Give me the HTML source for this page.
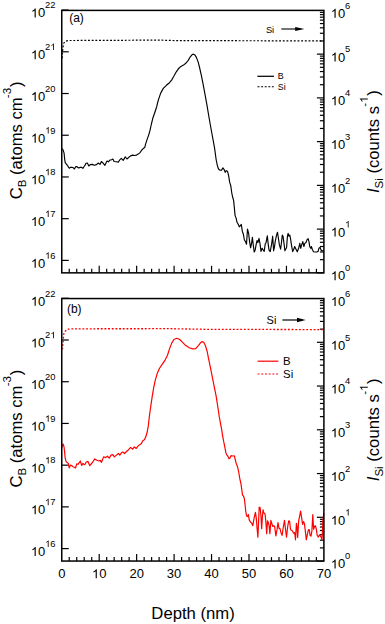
<!DOCTYPE html>
<html><head><meta charset="utf-8"><style>
html,body{margin:0;padding:0;background:#fff;width:385px;height:624px;overflow:hidden}
svg{display:block}
text{font-family:"Liberation Sans",sans-serif}
</style></head><body>
<svg width="385" height="624" viewBox="0 0 385 624">
<g stroke="#000" stroke-width="1.2" fill="none"><line x1="61.75" y1="10.08" x2="68.75" y2="10.08"/><line x1="61.75" y1="51.80" x2="68.75" y2="51.80"/><line x1="61.75" y1="93.52" x2="68.75" y2="93.52"/><line x1="61.75" y1="135.24" x2="68.75" y2="135.24"/><line x1="61.75" y1="176.96" x2="68.75" y2="176.96"/><line x1="61.75" y1="218.68" x2="68.75" y2="218.68"/><line x1="61.75" y1="260.40" x2="68.75" y2="260.40"/><line x1="316.9" y1="272.85" x2="323.9" y2="272.85"/><line x1="319.9" y1="259.68" x2="323.9" y2="259.68"/><line x1="319.9" y1="251.98" x2="323.9" y2="251.98"/><line x1="319.9" y1="246.51" x2="323.9" y2="246.51"/><line x1="319.9" y1="242.28" x2="323.9" y2="242.28"/><line x1="319.9" y1="238.81" x2="323.9" y2="238.81"/><line x1="319.9" y1="235.88" x2="323.9" y2="235.88"/><line x1="319.9" y1="233.35" x2="323.9" y2="233.35"/><line x1="319.9" y1="231.11" x2="323.9" y2="231.11"/><line x1="316.9" y1="229.11" x2="323.9" y2="229.11"/><line x1="319.9" y1="215.94" x2="323.9" y2="215.94"/><line x1="319.9" y1="208.24" x2="323.9" y2="208.24"/><line x1="319.9" y1="202.77" x2="323.9" y2="202.77"/><line x1="319.9" y1="198.53" x2="323.9" y2="198.53"/><line x1="319.9" y1="195.07" x2="323.9" y2="195.07"/><line x1="319.9" y1="192.14" x2="323.9" y2="192.14"/><line x1="319.9" y1="189.61" x2="323.9" y2="189.61"/><line x1="319.9" y1="187.37" x2="323.9" y2="187.37"/><line x1="316.9" y1="185.37" x2="323.9" y2="185.37"/><line x1="319.9" y1="172.20" x2="323.9" y2="172.20"/><line x1="319.9" y1="164.50" x2="323.9" y2="164.50"/><line x1="319.9" y1="159.03" x2="323.9" y2="159.03"/><line x1="319.9" y1="154.79" x2="323.9" y2="154.79"/><line x1="319.9" y1="151.33" x2="323.9" y2="151.33"/><line x1="319.9" y1="148.40" x2="323.9" y2="148.40"/><line x1="319.9" y1="145.86" x2="323.9" y2="145.86"/><line x1="319.9" y1="143.63" x2="323.9" y2="143.63"/><line x1="316.9" y1="141.62" x2="323.9" y2="141.62"/><line x1="319.9" y1="128.46" x2="323.9" y2="128.46"/><line x1="319.9" y1="120.75" x2="323.9" y2="120.75"/><line x1="319.9" y1="115.29" x2="323.9" y2="115.29"/><line x1="319.9" y1="111.05" x2="323.9" y2="111.05"/><line x1="319.9" y1="107.59" x2="323.9" y2="107.59"/><line x1="319.9" y1="104.66" x2="323.9" y2="104.66"/><line x1="319.9" y1="102.12" x2="323.9" y2="102.12"/><line x1="319.9" y1="99.88" x2="323.9" y2="99.88"/><line x1="316.9" y1="97.88" x2="323.9" y2="97.88"/><line x1="319.9" y1="84.72" x2="323.9" y2="84.72"/><line x1="319.9" y1="77.01" x2="323.9" y2="77.01"/><line x1="319.9" y1="71.55" x2="323.9" y2="71.55"/><line x1="319.9" y1="67.31" x2="323.9" y2="67.31"/><line x1="319.9" y1="63.85" x2="323.9" y2="63.85"/><line x1="319.9" y1="60.92" x2="323.9" y2="60.92"/><line x1="319.9" y1="58.38" x2="323.9" y2="58.38"/><line x1="319.9" y1="56.14" x2="323.9" y2="56.14"/><line x1="316.9" y1="54.14" x2="323.9" y2="54.14"/><line x1="319.9" y1="40.97" x2="323.9" y2="40.97"/><line x1="319.9" y1="33.27" x2="323.9" y2="33.27"/><line x1="319.9" y1="27.81" x2="323.9" y2="27.81"/><line x1="319.9" y1="23.57" x2="323.9" y2="23.57"/><line x1="319.9" y1="20.10" x2="323.9" y2="20.10"/><line x1="319.9" y1="17.18" x2="323.9" y2="17.18"/><line x1="319.9" y1="14.64" x2="323.9" y2="14.64"/><line x1="319.9" y1="12.40" x2="323.9" y2="12.40"/><line x1="69.24" y1="272.85" x2="69.24" y2="268.85"/><line x1="76.73" y1="272.85" x2="76.73" y2="268.85"/><line x1="84.22" y1="272.85" x2="84.22" y2="268.85"/><line x1="91.71" y1="272.85" x2="91.71" y2="268.85"/><line x1="99.20" y1="272.85" x2="99.20" y2="265.85"/><line x1="106.69" y1="272.85" x2="106.69" y2="268.85"/><line x1="114.18" y1="272.85" x2="114.18" y2="268.85"/><line x1="121.67" y1="272.85" x2="121.67" y2="268.85"/><line x1="129.16" y1="272.85" x2="129.16" y2="268.85"/><line x1="136.65" y1="272.85" x2="136.65" y2="265.85"/><line x1="144.14" y1="272.85" x2="144.14" y2="268.85"/><line x1="151.63" y1="272.85" x2="151.63" y2="268.85"/><line x1="159.12" y1="272.85" x2="159.12" y2="268.85"/><line x1="166.61" y1="272.85" x2="166.61" y2="268.85"/><line x1="174.10" y1="272.85" x2="174.10" y2="265.85"/><line x1="181.59" y1="272.85" x2="181.59" y2="268.85"/><line x1="189.08" y1="272.85" x2="189.08" y2="268.85"/><line x1="196.57" y1="272.85" x2="196.57" y2="268.85"/><line x1="204.06" y1="272.85" x2="204.06" y2="268.85"/><line x1="211.55" y1="272.85" x2="211.55" y2="265.85"/><line x1="219.04" y1="272.85" x2="219.04" y2="268.85"/><line x1="226.53" y1="272.85" x2="226.53" y2="268.85"/><line x1="234.02" y1="272.85" x2="234.02" y2="268.85"/><line x1="241.51" y1="272.85" x2="241.51" y2="268.85"/><line x1="249.00" y1="272.85" x2="249.00" y2="265.85"/><line x1="256.49" y1="272.85" x2="256.49" y2="268.85"/><line x1="263.98" y1="272.85" x2="263.98" y2="268.85"/><line x1="271.47" y1="272.85" x2="271.47" y2="268.85"/><line x1="278.96" y1="272.85" x2="278.96" y2="268.85"/><line x1="286.45" y1="272.85" x2="286.45" y2="265.85"/><line x1="293.94" y1="272.85" x2="293.94" y2="268.85"/><line x1="301.43" y1="272.85" x2="301.43" y2="268.85"/><line x1="308.92" y1="272.85" x2="308.92" y2="268.85"/><line x1="316.41" y1="272.85" x2="316.41" y2="268.85"/></g>
<g font-family="Liberation Sans, sans-serif" fill="#000"><text x="30.90" y="17.48" font-size="13.0" fill="#000">&#x2007;0</text><path transform="translate(30.90,17.48) scale(0.00635,-0.00635)" d="M763 0L583 0L583 1107Q518 1047 412 987Q306 927 221 897L221 1065Q372 1134 485 1231Q598 1329 645 1420L763 1420Z" fill="#000"/><text x="45.10" y="8.38" font-size="9.4" fill="#000">22</text><text x="30.90" y="59.20" font-size="13.0" fill="#000">&#x2007;0</text><path transform="translate(30.90,59.20) scale(0.00635,-0.00635)" d="M763 0L583 0L583 1107Q518 1047 412 987Q306 927 221 897L221 1065Q372 1134 485 1231Q598 1329 645 1420L763 1420Z" fill="#000"/><text x="45.10" y="50.10" font-size="9.4" fill="#000">2&#x2007;</text><path transform="translate(50.33,50.10) scale(0.00459,-0.00459)" d="M763 0L583 0L583 1107Q518 1047 412 987Q306 927 221 897L221 1065Q372 1134 485 1231Q598 1329 645 1420L763 1420Z" fill="#000"/><text x="30.90" y="100.92" font-size="13.0" fill="#000">&#x2007;0</text><path transform="translate(30.90,100.92) scale(0.00635,-0.00635)" d="M763 0L583 0L583 1107Q518 1047 412 987Q306 927 221 897L221 1065Q372 1134 485 1231Q598 1329 645 1420L763 1420Z" fill="#000"/><text x="45.10" y="91.82" font-size="9.4" fill="#000">20</text><text x="30.90" y="142.64" font-size="13.0" fill="#000">&#x2007;0</text><path transform="translate(30.90,142.64) scale(0.00635,-0.00635)" d="M763 0L583 0L583 1107Q518 1047 412 987Q306 927 221 897L221 1065Q372 1134 485 1231Q598 1329 645 1420L763 1420Z" fill="#000"/><text x="45.10" y="133.54" font-size="9.4" fill="#000">&#x2007;9</text><path transform="translate(45.10,133.54) scale(0.00459,-0.00459)" d="M763 0L583 0L583 1107Q518 1047 412 987Q306 927 221 897L221 1065Q372 1134 485 1231Q598 1329 645 1420L763 1420Z" fill="#000"/><text x="30.90" y="184.36" font-size="13.0" fill="#000">&#x2007;0</text><path transform="translate(30.90,184.36) scale(0.00635,-0.00635)" d="M763 0L583 0L583 1107Q518 1047 412 987Q306 927 221 897L221 1065Q372 1134 485 1231Q598 1329 645 1420L763 1420Z" fill="#000"/><text x="45.10" y="175.26" font-size="9.4" fill="#000">&#x2007;8</text><path transform="translate(45.10,175.26) scale(0.00459,-0.00459)" d="M763 0L583 0L583 1107Q518 1047 412 987Q306 927 221 897L221 1065Q372 1134 485 1231Q598 1329 645 1420L763 1420Z" fill="#000"/><text x="30.90" y="226.08" font-size="13.0" fill="#000">&#x2007;0</text><path transform="translate(30.90,226.08) scale(0.00635,-0.00635)" d="M763 0L583 0L583 1107Q518 1047 412 987Q306 927 221 897L221 1065Q372 1134 485 1231Q598 1329 645 1420L763 1420Z" fill="#000"/><text x="45.10" y="216.98" font-size="9.4" fill="#000">&#x2007;7</text><path transform="translate(45.10,216.98) scale(0.00459,-0.00459)" d="M763 0L583 0L583 1107Q518 1047 412 987Q306 927 221 897L221 1065Q372 1134 485 1231Q598 1329 645 1420L763 1420Z" fill="#000"/><text x="30.90" y="267.80" font-size="13.0" fill="#000">&#x2007;0</text><path transform="translate(30.90,267.80) scale(0.00635,-0.00635)" d="M763 0L583 0L583 1107Q518 1047 412 987Q306 927 221 897L221 1065Q372 1134 485 1231Q598 1329 645 1420L763 1420Z" fill="#000"/><text x="45.10" y="258.70" font-size="9.4" fill="#000">&#x2007;6</text><path transform="translate(45.10,258.70) scale(0.00459,-0.00459)" d="M763 0L583 0L583 1107Q518 1047 412 987Q306 927 221 897L221 1065Q372 1134 485 1231Q598 1329 645 1420L763 1420Z" fill="#000"/><text x="330.80" y="280.25" font-size="13.0" fill="#000">&#x2007;0</text><path transform="translate(330.80,280.25) scale(0.00635,-0.00635)" d="M763 0L583 0L583 1107Q518 1047 412 987Q306 927 221 897L221 1065Q372 1134 485 1231Q598 1329 645 1420L763 1420Z" fill="#000"/><text x="345.10" y="271.15" font-size="9.4" fill="#000">0</text><text x="330.80" y="236.51" font-size="13.0" fill="#000">&#x2007;0</text><path transform="translate(330.80,236.51) scale(0.00635,-0.00635)" d="M763 0L583 0L583 1107Q518 1047 412 987Q306 927 221 897L221 1065Q372 1134 485 1231Q598 1329 645 1420L763 1420Z" fill="#000"/><text x="345.10" y="227.41" font-size="9.4" fill="#000">&#x2007;</text><path transform="translate(345.10,227.41) scale(0.00459,-0.00459)" d="M763 0L583 0L583 1107Q518 1047 412 987Q306 927 221 897L221 1065Q372 1134 485 1231Q598 1329 645 1420L763 1420Z" fill="#000"/><text x="330.80" y="192.77" font-size="13.0" fill="#000">&#x2007;0</text><path transform="translate(330.80,192.77) scale(0.00635,-0.00635)" d="M763 0L583 0L583 1107Q518 1047 412 987Q306 927 221 897L221 1065Q372 1134 485 1231Q598 1329 645 1420L763 1420Z" fill="#000"/><text x="345.10" y="183.67" font-size="9.4" fill="#000">2</text><text x="330.80" y="149.03" font-size="13.0" fill="#000">&#x2007;0</text><path transform="translate(330.80,149.03) scale(0.00635,-0.00635)" d="M763 0L583 0L583 1107Q518 1047 412 987Q306 927 221 897L221 1065Q372 1134 485 1231Q598 1329 645 1420L763 1420Z" fill="#000"/><text x="345.10" y="139.93" font-size="9.4" fill="#000">3</text><text x="330.80" y="105.28" font-size="13.0" fill="#000">&#x2007;0</text><path transform="translate(330.80,105.28) scale(0.00635,-0.00635)" d="M763 0L583 0L583 1107Q518 1047 412 987Q306 927 221 897L221 1065Q372 1134 485 1231Q598 1329 645 1420L763 1420Z" fill="#000"/><text x="345.10" y="96.18" font-size="9.4" fill="#000">4</text><text x="330.80" y="61.54" font-size="13.0" fill="#000">&#x2007;0</text><path transform="translate(330.80,61.54) scale(0.00635,-0.00635)" d="M763 0L583 0L583 1107Q518 1047 412 987Q306 927 221 897L221 1065Q372 1134 485 1231Q598 1329 645 1420L763 1420Z" fill="#000"/><text x="345.10" y="52.44" font-size="9.4" fill="#000">5</text><text x="330.80" y="17.80" font-size="13.0" fill="#000">&#x2007;0</text><path transform="translate(330.80,17.80) scale(0.00635,-0.00635)" d="M763 0L583 0L583 1107Q518 1047 412 987Q306 927 221 897L221 1065Q372 1134 485 1231Q598 1329 645 1420L763 1420Z" fill="#000"/><text x="345.10" y="8.70" font-size="9.4" fill="#000">6</text></g>
<text transform="translate(22.2,140.4) rotate(-90)" font-size="16.65" text-anchor="middle" font-family="Liberation Sans, sans-serif">C<tspan font-size="11.5" dy="4">B</tspan><tspan dy="-4"> (atoms cm</tspan><tspan font-size="11.6" dy="-11" dx="-0.8">-3</tspan><tspan dy="11" dx="0.8">)</tspan></text>
<g transform="translate(378.8,141.6) rotate(-90)"><text class="rt" x="0" y="0" font-size="16.65" text-anchor="middle" font-family="Liberation Sans, sans-serif"><tspan font-style="italic">I</tspan><tspan font-size="11.5" dy="4">Si</tspan><tspan dy="-4"> (counts s</tspan><tspan font-size="11.6" dy="-11" dx="-0.6">-&#x2007;</tspan><tspan dy="11" dx="0.6">)</tspan></text><path transform="translate(38.83,-11.00) scale(0.00566,-0.00566)" d="M763 0L583 0L583 1107Q518 1047 412 987Q306 927 221 897L221 1065Q372 1134 485 1231Q598 1329 645 1420L763 1420Z" fill="#000"/></g>
<g stroke="#000" stroke-width="1.2" fill="none"><line x1="61.75" y1="298.28" x2="68.75" y2="298.28"/><line x1="61.75" y1="340.00" x2="68.75" y2="340.00"/><line x1="61.75" y1="381.72" x2="68.75" y2="381.72"/><line x1="61.75" y1="423.44" x2="68.75" y2="423.44"/><line x1="61.75" y1="465.16" x2="68.75" y2="465.16"/><line x1="61.75" y1="506.88" x2="68.75" y2="506.88"/><line x1="61.75" y1="548.60" x2="68.75" y2="548.60"/><line x1="316.9" y1="561.05" x2="323.9" y2="561.05"/><line x1="319.9" y1="547.88" x2="323.9" y2="547.88"/><line x1="319.9" y1="540.18" x2="323.9" y2="540.18"/><line x1="319.9" y1="534.71" x2="323.9" y2="534.71"/><line x1="319.9" y1="530.47" x2="323.9" y2="530.47"/><line x1="319.9" y1="527.01" x2="323.9" y2="527.01"/><line x1="319.9" y1="524.08" x2="323.9" y2="524.08"/><line x1="319.9" y1="521.54" x2="323.9" y2="521.54"/><line x1="319.9" y1="519.30" x2="323.9" y2="519.30"/><line x1="316.9" y1="517.30" x2="323.9" y2="517.30"/><line x1="319.9" y1="504.13" x2="323.9" y2="504.13"/><line x1="319.9" y1="496.43" x2="323.9" y2="496.43"/><line x1="319.9" y1="490.96" x2="323.9" y2="490.96"/><line x1="319.9" y1="486.72" x2="323.9" y2="486.72"/><line x1="319.9" y1="483.26" x2="323.9" y2="483.26"/><line x1="319.9" y1="480.33" x2="323.9" y2="480.33"/><line x1="319.9" y1="477.79" x2="323.9" y2="477.79"/><line x1="319.9" y1="475.55" x2="323.9" y2="475.55"/><line x1="316.9" y1="473.55" x2="323.9" y2="473.55"/><line x1="319.9" y1="460.38" x2="323.9" y2="460.38"/><line x1="319.9" y1="452.68" x2="323.9" y2="452.68"/><line x1="319.9" y1="447.21" x2="323.9" y2="447.21"/><line x1="319.9" y1="442.97" x2="323.9" y2="442.97"/><line x1="319.9" y1="439.51" x2="323.9" y2="439.51"/><line x1="319.9" y1="436.58" x2="323.9" y2="436.58"/><line x1="319.9" y1="434.04" x2="323.9" y2="434.04"/><line x1="319.9" y1="431.80" x2="323.9" y2="431.80"/><line x1="316.9" y1="429.80" x2="323.9" y2="429.80"/><line x1="319.9" y1="416.63" x2="323.9" y2="416.63"/><line x1="319.9" y1="408.93" x2="323.9" y2="408.93"/><line x1="319.9" y1="403.46" x2="323.9" y2="403.46"/><line x1="319.9" y1="399.22" x2="323.9" y2="399.22"/><line x1="319.9" y1="395.76" x2="323.9" y2="395.76"/><line x1="319.9" y1="392.83" x2="323.9" y2="392.83"/><line x1="319.9" y1="390.29" x2="323.9" y2="390.29"/><line x1="319.9" y1="388.05" x2="323.9" y2="388.05"/><line x1="316.9" y1="386.05" x2="323.9" y2="386.05"/><line x1="319.9" y1="372.88" x2="323.9" y2="372.88"/><line x1="319.9" y1="365.18" x2="323.9" y2="365.18"/><line x1="319.9" y1="359.71" x2="323.9" y2="359.71"/><line x1="319.9" y1="355.47" x2="323.9" y2="355.47"/><line x1="319.9" y1="352.01" x2="323.9" y2="352.01"/><line x1="319.9" y1="349.08" x2="323.9" y2="349.08"/><line x1="319.9" y1="346.54" x2="323.9" y2="346.54"/><line x1="319.9" y1="344.30" x2="323.9" y2="344.30"/><line x1="316.9" y1="342.30" x2="323.9" y2="342.30"/><line x1="319.9" y1="329.13" x2="323.9" y2="329.13"/><line x1="319.9" y1="321.43" x2="323.9" y2="321.43"/><line x1="319.9" y1="315.96" x2="323.9" y2="315.96"/><line x1="319.9" y1="311.72" x2="323.9" y2="311.72"/><line x1="319.9" y1="308.26" x2="323.9" y2="308.26"/><line x1="319.9" y1="305.33" x2="323.9" y2="305.33"/><line x1="319.9" y1="302.79" x2="323.9" y2="302.79"/><line x1="319.9" y1="300.55" x2="323.9" y2="300.55"/><line x1="69.24" y1="561.05" x2="69.24" y2="557.05"/><line x1="76.73" y1="561.05" x2="76.73" y2="557.05"/><line x1="84.22" y1="561.05" x2="84.22" y2="557.05"/><line x1="91.71" y1="561.05" x2="91.71" y2="557.05"/><line x1="99.20" y1="561.05" x2="99.20" y2="554.05"/><line x1="106.69" y1="561.05" x2="106.69" y2="557.05"/><line x1="114.18" y1="561.05" x2="114.18" y2="557.05"/><line x1="121.67" y1="561.05" x2="121.67" y2="557.05"/><line x1="129.16" y1="561.05" x2="129.16" y2="557.05"/><line x1="136.65" y1="561.05" x2="136.65" y2="554.05"/><line x1="144.14" y1="561.05" x2="144.14" y2="557.05"/><line x1="151.63" y1="561.05" x2="151.63" y2="557.05"/><line x1="159.12" y1="561.05" x2="159.12" y2="557.05"/><line x1="166.61" y1="561.05" x2="166.61" y2="557.05"/><line x1="174.10" y1="561.05" x2="174.10" y2="554.05"/><line x1="181.59" y1="561.05" x2="181.59" y2="557.05"/><line x1="189.08" y1="561.05" x2="189.08" y2="557.05"/><line x1="196.57" y1="561.05" x2="196.57" y2="557.05"/><line x1="204.06" y1="561.05" x2="204.06" y2="557.05"/><line x1="211.55" y1="561.05" x2="211.55" y2="554.05"/><line x1="219.04" y1="561.05" x2="219.04" y2="557.05"/><line x1="226.53" y1="561.05" x2="226.53" y2="557.05"/><line x1="234.02" y1="561.05" x2="234.02" y2="557.05"/><line x1="241.51" y1="561.05" x2="241.51" y2="557.05"/><line x1="249.00" y1="561.05" x2="249.00" y2="554.05"/><line x1="256.49" y1="561.05" x2="256.49" y2="557.05"/><line x1="263.98" y1="561.05" x2="263.98" y2="557.05"/><line x1="271.47" y1="561.05" x2="271.47" y2="557.05"/><line x1="278.96" y1="561.05" x2="278.96" y2="557.05"/><line x1="286.45" y1="561.05" x2="286.45" y2="554.05"/><line x1="293.94" y1="561.05" x2="293.94" y2="557.05"/><line x1="301.43" y1="561.05" x2="301.43" y2="557.05"/><line x1="308.92" y1="561.05" x2="308.92" y2="557.05"/><line x1="316.41" y1="561.05" x2="316.41" y2="557.05"/></g>
<g font-family="Liberation Sans, sans-serif" fill="#000"><text x="30.90" y="305.68" font-size="13.0" fill="#000">&#x2007;0</text><path transform="translate(30.90,305.68) scale(0.00635,-0.00635)" d="M763 0L583 0L583 1107Q518 1047 412 987Q306 927 221 897L221 1065Q372 1134 485 1231Q598 1329 645 1420L763 1420Z" fill="#000"/><text x="45.10" y="296.58" font-size="9.4" fill="#000">22</text><text x="30.90" y="347.40" font-size="13.0" fill="#000">&#x2007;0</text><path transform="translate(30.90,347.40) scale(0.00635,-0.00635)" d="M763 0L583 0L583 1107Q518 1047 412 987Q306 927 221 897L221 1065Q372 1134 485 1231Q598 1329 645 1420L763 1420Z" fill="#000"/><text x="45.10" y="338.30" font-size="9.4" fill="#000">2&#x2007;</text><path transform="translate(50.33,338.30) scale(0.00459,-0.00459)" d="M763 0L583 0L583 1107Q518 1047 412 987Q306 927 221 897L221 1065Q372 1134 485 1231Q598 1329 645 1420L763 1420Z" fill="#000"/><text x="30.90" y="389.12" font-size="13.0" fill="#000">&#x2007;0</text><path transform="translate(30.90,389.12) scale(0.00635,-0.00635)" d="M763 0L583 0L583 1107Q518 1047 412 987Q306 927 221 897L221 1065Q372 1134 485 1231Q598 1329 645 1420L763 1420Z" fill="#000"/><text x="45.10" y="380.02" font-size="9.4" fill="#000">20</text><text x="30.90" y="430.84" font-size="13.0" fill="#000">&#x2007;0</text><path transform="translate(30.90,430.84) scale(0.00635,-0.00635)" d="M763 0L583 0L583 1107Q518 1047 412 987Q306 927 221 897L221 1065Q372 1134 485 1231Q598 1329 645 1420L763 1420Z" fill="#000"/><text x="45.10" y="421.74" font-size="9.4" fill="#000">&#x2007;9</text><path transform="translate(45.10,421.74) scale(0.00459,-0.00459)" d="M763 0L583 0L583 1107Q518 1047 412 987Q306 927 221 897L221 1065Q372 1134 485 1231Q598 1329 645 1420L763 1420Z" fill="#000"/><text x="30.90" y="472.56" font-size="13.0" fill="#000">&#x2007;0</text><path transform="translate(30.90,472.56) scale(0.00635,-0.00635)" d="M763 0L583 0L583 1107Q518 1047 412 987Q306 927 221 897L221 1065Q372 1134 485 1231Q598 1329 645 1420L763 1420Z" fill="#000"/><text x="45.10" y="463.46" font-size="9.4" fill="#000">&#x2007;8</text><path transform="translate(45.10,463.46) scale(0.00459,-0.00459)" d="M763 0L583 0L583 1107Q518 1047 412 987Q306 927 221 897L221 1065Q372 1134 485 1231Q598 1329 645 1420L763 1420Z" fill="#000"/><text x="30.90" y="514.28" font-size="13.0" fill="#000">&#x2007;0</text><path transform="translate(30.90,514.28) scale(0.00635,-0.00635)" d="M763 0L583 0L583 1107Q518 1047 412 987Q306 927 221 897L221 1065Q372 1134 485 1231Q598 1329 645 1420L763 1420Z" fill="#000"/><text x="45.10" y="505.18" font-size="9.4" fill="#000">&#x2007;7</text><path transform="translate(45.10,505.18) scale(0.00459,-0.00459)" d="M763 0L583 0L583 1107Q518 1047 412 987Q306 927 221 897L221 1065Q372 1134 485 1231Q598 1329 645 1420L763 1420Z" fill="#000"/><text x="30.90" y="556.00" font-size="13.0" fill="#000">&#x2007;0</text><path transform="translate(30.90,556.00) scale(0.00635,-0.00635)" d="M763 0L583 0L583 1107Q518 1047 412 987Q306 927 221 897L221 1065Q372 1134 485 1231Q598 1329 645 1420L763 1420Z" fill="#000"/><text x="45.10" y="546.90" font-size="9.4" fill="#000">&#x2007;6</text><path transform="translate(45.10,546.90) scale(0.00459,-0.00459)" d="M763 0L583 0L583 1107Q518 1047 412 987Q306 927 221 897L221 1065Q372 1134 485 1231Q598 1329 645 1420L763 1420Z" fill="#000"/><text x="330.80" y="568.45" font-size="13.0" fill="#000">&#x2007;0</text><path transform="translate(330.80,568.45) scale(0.00635,-0.00635)" d="M763 0L583 0L583 1107Q518 1047 412 987Q306 927 221 897L221 1065Q372 1134 485 1231Q598 1329 645 1420L763 1420Z" fill="#000"/><text x="345.10" y="559.35" font-size="9.4" fill="#000">0</text><text x="330.80" y="524.70" font-size="13.0" fill="#000">&#x2007;0</text><path transform="translate(330.80,524.70) scale(0.00635,-0.00635)" d="M763 0L583 0L583 1107Q518 1047 412 987Q306 927 221 897L221 1065Q372 1134 485 1231Q598 1329 645 1420L763 1420Z" fill="#000"/><text x="345.10" y="515.60" font-size="9.4" fill="#000">&#x2007;</text><path transform="translate(345.10,515.60) scale(0.00459,-0.00459)" d="M763 0L583 0L583 1107Q518 1047 412 987Q306 927 221 897L221 1065Q372 1134 485 1231Q598 1329 645 1420L763 1420Z" fill="#000"/><text x="330.80" y="480.95" font-size="13.0" fill="#000">&#x2007;0</text><path transform="translate(330.80,480.95) scale(0.00635,-0.00635)" d="M763 0L583 0L583 1107Q518 1047 412 987Q306 927 221 897L221 1065Q372 1134 485 1231Q598 1329 645 1420L763 1420Z" fill="#000"/><text x="345.10" y="471.85" font-size="9.4" fill="#000">2</text><text x="330.80" y="437.20" font-size="13.0" fill="#000">&#x2007;0</text><path transform="translate(330.80,437.20) scale(0.00635,-0.00635)" d="M763 0L583 0L583 1107Q518 1047 412 987Q306 927 221 897L221 1065Q372 1134 485 1231Q598 1329 645 1420L763 1420Z" fill="#000"/><text x="345.10" y="428.10" font-size="9.4" fill="#000">3</text><text x="330.80" y="393.45" font-size="13.0" fill="#000">&#x2007;0</text><path transform="translate(330.80,393.45) scale(0.00635,-0.00635)" d="M763 0L583 0L583 1107Q518 1047 412 987Q306 927 221 897L221 1065Q372 1134 485 1231Q598 1329 645 1420L763 1420Z" fill="#000"/><text x="345.10" y="384.35" font-size="9.4" fill="#000">4</text><text x="330.80" y="349.70" font-size="13.0" fill="#000">&#x2007;0</text><path transform="translate(330.80,349.70) scale(0.00635,-0.00635)" d="M763 0L583 0L583 1107Q518 1047 412 987Q306 927 221 897L221 1065Q372 1134 485 1231Q598 1329 645 1420L763 1420Z" fill="#000"/><text x="345.10" y="340.60" font-size="9.4" fill="#000">5</text><text x="330.80" y="305.95" font-size="13.0" fill="#000">&#x2007;0</text><path transform="translate(330.80,305.95) scale(0.00635,-0.00635)" d="M763 0L583 0L583 1107Q518 1047 412 987Q306 927 221 897L221 1065Q372 1134 485 1231Q598 1329 645 1420L763 1420Z" fill="#000"/><text x="345.10" y="296.85" font-size="9.4" fill="#000">6</text></g>
<text transform="translate(22.2,428.6) rotate(-90)" font-size="16.65" text-anchor="middle" font-family="Liberation Sans, sans-serif">C<tspan font-size="11.5" dy="4">B</tspan><tspan dy="-4"> (atoms cm</tspan><tspan font-size="11.6" dy="-11" dx="-0.8">-3</tspan><tspan dy="11" dx="0.8">)</tspan></text>
<g transform="translate(378.8,429.8) rotate(-90)"><text class="rt" x="0" y="0" font-size="16.65" text-anchor="middle" font-family="Liberation Sans, sans-serif"><tspan font-style="italic">I</tspan><tspan font-size="11.5" dy="4">Si</tspan><tspan dy="-4"> (counts s</tspan><tspan font-size="11.6" dy="-11" dx="-0.6">-&#x2007;</tspan><tspan dy="11" dx="0.6">)</tspan></text><path transform="translate(38.83,-11.00) scale(0.00566,-0.00566)" d="M763 0L583 0L583 1107Q518 1047 412 987Q306 927 221 897L221 1065Q372 1134 485 1231Q598 1329 645 1420L763 1420Z" fill="#000"/></g>
<text x="69.2" y="21.8" font-size="12.0" font-family="Liberation Sans, sans-serif">(a)</text>
<polyline points="61.9,148.6 62.8,149.4 63.5,151.3 64.1,153.2 64.6,158.7 65.2,162.6 66.2,163.8 67.4,165.3 68.5,167.3 69.3,168.2 70.5,167.3 72.0,167.3 73.2,167.7 74.4,169.0 75.5,166.9 76.7,166.5 77.9,167.7 79.0,167.9 80.2,167.3 81.4,167.3 82.9,168.4 84.1,166.5 85.3,164.9 86.0,163.2 87.4,163.0 88.8,166.0 90.2,164.6 92.3,164.4 94.4,165.3 96.5,164.6 98.3,163.0 100.0,164.4 101.4,161.5 103.1,163.2 104.9,165.3 107.0,161.1 108.4,161.8 109.8,160.1 111.5,159.7 112.9,159.0 114.1,161.5 116.2,161.8 118.3,162.1 119.9,159.7 121.3,158.3 123.2,160.4 125.3,156.9 127.0,159.0 128.8,157.3 130.6,155.9 132.6,155.1 134.4,155.5 136.5,155.1 138.2,154.1 139.8,152.9 141.8,150.0 143.2,148.6 144.7,147.6 145.6,144.2 147.1,139.4 148.5,135.6 149.9,130.8 151.4,124.0 152.8,118.3 154.8,112.5 156.7,106.7 157.8,102.0 158.8,98.6 160.7,93.1 163.3,88.4 166.4,85.3 169.5,82.7 171.6,80.1 173.7,76.5 176.3,71.8 178.9,68.2 180.9,66.4 183.5,65.1 186.1,63.0 188.2,60.4 190.3,56.8 192.4,54.4 193.4,54.2 195.0,55.1 196.5,57.6 198.2,62.1 199.8,68.5 201.4,75.6 203.3,85.2 205.2,95.4 207.0,105.4 209.2,118.5 211.9,133.5 214.5,147.6 216.2,160.0 217.4,165.6 218.5,169.0 220.2,170.3 221.6,170.1 223.0,167.9 224.1,169.5 225.2,172.3 226.3,170.7 227.5,171.2 228.6,175.7 229.7,182.4 230.8,185.8 231.7,192.5 232.5,196.5 233.6,200.4 234.4,208.3 235.1,215.6 236.2,218.4 237.0,222.3 238.1,224.0 239.3,226.8 240.5,225.5 241.3,224.4 242.3,231.2 243.4,234.3 244.4,240.0 245.5,241.6 246.5,244.2 247.5,229.1 248.6,233.2 249.6,241.6 250.6,247.8 251.7,242.6 252.4,237.4 253.1,243.6 254.2,252.0 255.2,249.9 256.3,243.6 257.1,240.5 257.9,242.6 259.0,238.4 260.0,243.6 261.0,251.4 262.1,248.3 263.1,249.9 264.2,251.4 265.2,244.1 266.1,242.4 267.3,235.8 268.2,244.1 269.0,249.9 270.2,251.6 271.5,244.9 272.7,236.2 273.6,250.8 274.4,247.4 275.2,241.6 276.5,235.4 277.5,232.3 278.3,237.5 279.4,244.9 280.6,249.1 281.5,242.4 282.3,235.0 283.1,236.6 284.0,243.3 284.9,250.8 285.8,249.1 286.6,247.4 287.4,236.6 288.1,233.3 288.9,236.2 289.8,235.0 290.6,239.1 291.6,245.8 292.7,251.6 293.9,249.1 294.7,246.5 296.0,249.2 297.3,251.8 298.6,248.3 299.8,243.4 300.7,248.3 301.7,244.7 302.8,241.6 303.9,246.5 304.8,243.4 306.0,242.5 307.0,239.9 308.1,238.6 309.0,241.6 309.7,246.5 310.7,248.3 311.4,246.5 312.5,250.0 313.6,251.8 315.0,252.0 316.7,252.0 318.1,251.4 318.9,248.3 320.1,247.4 321.0,250.0 322.0,250.9 323.6,250.5" fill="none" stroke="#000" stroke-width="1.15" stroke-linejoin="round"/>
<polyline points="62.2,58.3 62.5,52.0 62.9,47.4 63.7,43.2 65.8,41.1 68.4,40.5 110.0,40.4 150.0,40.1 162.0,40.2 175.0,40.6 324.0,40.9" fill="none" stroke="#000" stroke-width="1.2" stroke-dasharray="1.9 1.775" stroke-dashoffset="3.637"/>
<text x="265.9" y="33.3" font-size="9.3" font-family="Liberation Sans, sans-serif">Si</text>
<line x1="281.3" y1="29" x2="297" y2="29" stroke="#000" stroke-width="1.1"/><polygon points="295.2,26.9 304.4,29 295.2,31.1" fill="#000"/>
<line x1="257.4" y1="76.3" x2="274" y2="76.3" stroke="#000" stroke-width="1.25"/>
<line x1="257.5" y1="86.8" x2="273.8" y2="86.8" stroke="#000" stroke-width="1.1" stroke-dasharray="2 1.6"/>
<text x="277.8" y="79.1" font-size="8.8" font-family="Liberation Sans, sans-serif">B</text>
<text x="277.8" y="89.7" font-size="8.8" font-family="Liberation Sans, sans-serif">Si</text>
<text x="66.9" y="312.5" font-size="12.0" font-family="Liberation Sans, sans-serif">(b)</text>
<polyline points="61.7,447.6 63.0,443.9 64.0,446.8 64.7,452.6 65.1,457.6 65.9,461.0 67.1,462.6 68.4,463.4 69.2,468.0 70.5,465.1 71.7,465.5 73.0,466.8 74.2,467.2 75.5,468.0 76.7,463.9 78.0,464.3 79.2,462.6 80.3,461.0 81.7,465.5 83.0,463.4 84.2,464.7 85.4,463.9 86.0,462.3 88.0,461.4 89.8,465.7 92.1,463.0 94.8,458.9 96.8,460.3 98.8,461.0 100.2,460.3 101.5,462.3 103.6,456.9 105.6,457.6 107.4,456.2 109.2,458.2 111.0,455.1 112.8,454.6 114.4,456.9 116.4,455.1 118.4,453.5 119.8,455.1 121.4,452.8 122.8,451.9 124.5,453.5 126.5,451.5 128.6,449.7 130.6,447.4 132.6,449.2 134.4,447.0 136.3,448.4 138.0,446.1 139.4,444.9 141.4,443.6 142.8,440.8 144.4,439.8 145.8,436.8 147.2,432.0 148.3,425.9 149.2,417.7 150.3,409.5 151.3,402.7 152.3,395.9 153.7,387.7 155.1,380.9 157.2,373.6 159.4,368.5 162.3,364.2 165.2,359.8 167.4,355.5 169.5,348.9 171.7,343.1 173.9,339.5 176.8,338.3 179.7,339.5 182.6,342.4 185.5,345.3 189.2,347.7 192.8,348.9 195.7,348.6 198.6,345.3 200.8,342.4 202.2,341.6 203.7,342.3 205.5,345.8 207.2,351.5 208.3,357.3 209.5,363.1 210.7,368.8 211.8,374.6 213.0,380.4 214.1,386.1 215.3,391.9 216.4,397.7 217.6,405.5 218.6,412.0 219.2,416.4 220.4,422.8 221.6,429.2 222.6,435.6 223.6,441.2 224.8,446.8 225.8,452.4 226.8,454.8 228.0,456.4 229.0,458.8 230.0,458.0 231.2,455.6 232.8,456.0 234.4,455.8 235.1,459.0 236.1,463.1 237.7,467.3 238.8,472.5 239.6,477.7 240.3,480.8 241.0,484.0 241.7,489.2 242.5,494.8 243.5,496.2 244.4,498.8 245.1,505.0 245.7,511.1 246.6,516.0 247.5,516.4 248.4,514.6 249.2,519.9 250.6,522.1 251.9,523.5 252.8,525.7 254.1,518.2 255.4,512.4 256.3,518.2 257.2,529.6 257.9,537.1 258.5,523.5 259.2,507.2 260.1,507.6 261.0,516.4 261.7,528.7 262.4,516.4 263.1,509.8 263.8,512.9 264.4,513.3 265.1,514.1 265.8,521.2 266.7,533.6 267.5,520.8 268.2,522.1 269.1,525.6 269.9,533.6 270.9,520.3 271.8,523.4 272.8,526.5 273.7,525.6 274.6,526.5 275.9,535.8 277.1,529.2 278.0,522.5 279.0,528.3 279.9,528.3 281.0,532.7 282.1,535.3 283.4,526.5 284.5,520.3 285.6,530.0 286.5,537.1 287.7,526.5 288.7,520.8 289.6,521.2 290.5,529.2 291.4,530.5 292.4,530.8 293.3,532.8 294.2,533.4 294.7,532.7 295.5,539.8 296.4,523.4 297.1,527.4 297.7,537.5 298.6,521.2 299.5,516.8 300.6,511.0 301.5,516.8 302.6,524.3 303.5,521.6 304.4,523.4 305.3,530.9 306.3,539.8 307.2,535.3 308.3,530.0 309.2,529.6 310.1,535.3 311.0,536.2 311.9,530.9 312.8,514.6 313.6,529.2 314.5,526.5 315.4,525.6 316.3,529.2 317.2,535.3 318.3,537.1 319.4,534.9 320.3,535.8 321.2,537.1 322.0,539.8 322.9,521.2 323.8,513.3" fill="none" stroke="#ff0000" stroke-width="1.2" stroke-linejoin="round"/>
<polyline points="62.5,349.2 62.8,345.0 63.1,341.8 63.5,337.1 63.8,334.0 65.4,330.9 68.1,329.2 72.0,328.8 170.0,328.7 205.0,329.3 324.0,329.6" fill="none" stroke="#ff0000" stroke-width="1.3" stroke-dasharray="1.9 1.77" stroke-dashoffset="0.444"/>
<text x="266.6" y="323.7" font-size="11" font-family="Liberation Sans, sans-serif">Si</text>
<line x1="282.4" y1="320" x2="298" y2="320" stroke="#000" stroke-width="1.2"/><polygon points="297,317.8 305.7,320 297,322.2" fill="#000"/>
<line x1="257.6" y1="361.2" x2="278.4" y2="361.2" stroke="#ff0000" stroke-width="1.2"/>
<line x1="257.6" y1="374" x2="278.4" y2="374" stroke="#ff0000" stroke-width="1.2" stroke-dasharray="1.9 1.8"/>
<text x="283.1" y="365.3" font-size="11.4" font-family="Liberation Sans, sans-serif">B</text>
<text x="283.1" y="377.7" font-size="11.4" font-family="Liberation Sans, sans-serif">Si</text>
<rect x="61.75" y="10.4" width="262.15" height="262.45" fill="none" stroke="#000" stroke-width="1.5"/>
<rect x="61.75" y="298.55" width="262.15" height="262.50" fill="none" stroke="#000" stroke-width="1.5"/>
<g font-family="Liberation Sans, sans-serif"><text x="58.14" y="578.20" font-size="13" fill="#000">0</text></g>
<g font-family="Liberation Sans, sans-serif"><text x="91.97" y="578.20" font-size="13" fill="#000">&#x2007;0</text><path transform="translate(91.97,578.20) scale(0.00635,-0.00635)" d="M763 0L583 0L583 1107Q518 1047 412 987Q306 927 221 897L221 1065Q372 1134 485 1231Q598 1329 645 1420L763 1420Z" fill="#000"/></g>
<g font-family="Liberation Sans, sans-serif"><text x="129.42" y="578.20" font-size="13" fill="#000">20</text></g>
<g font-family="Liberation Sans, sans-serif"><text x="166.87" y="578.20" font-size="13" fill="#000">30</text></g>
<g font-family="Liberation Sans, sans-serif"><text x="204.32" y="578.20" font-size="13" fill="#000">40</text></g>
<g font-family="Liberation Sans, sans-serif"><text x="241.77" y="578.20" font-size="13" fill="#000">50</text></g>
<g font-family="Liberation Sans, sans-serif"><text x="279.22" y="578.20" font-size="13" fill="#000">60</text></g>
<g font-family="Liberation Sans, sans-serif"><text x="316.67" y="578.20" font-size="13" fill="#000">70</text></g>
<text x="193.1" y="619.3" font-size="16.7" text-anchor="middle" font-family="Liberation Sans, sans-serif">Depth (nm)</text>
</svg>
</body></html>
